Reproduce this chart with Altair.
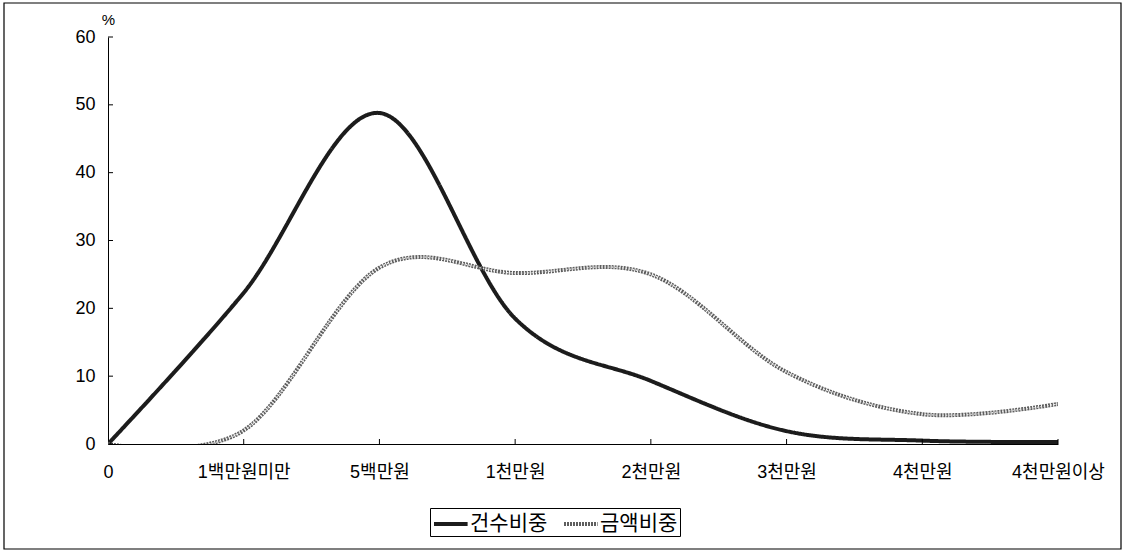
import altair as alt
import pandas as pd

# 금액 구간별 건수비중 / 금액비중 (%)
categories = ["0", "1백만원미만", "5백만원", "1천만원", "2천만원", "3천만원", "4천만원", "4천만원이상"]
count_share = [0.0, 22.3, 48.8, 18.5, 9.3, 1.9, 0.5, 0.3]
amount_share = [0.0, 2.0, 26.0, 25.2, 25.0, 10.6, 4.4, 5.9]
series_names = ["건수비중", "금액비중"]
y_ticks = [0, 10, 20, 30, 40, 50, 60]

W, H = 950, 407
FONT = "'Liberation Sans', 'Noto Sans CJK KR', sans-serif"

rows = []
for name, values in zip(series_names, [count_share, amount_share]):
    for cat, v in zip(categories, values):
        rows.append({"구간": cat, "비중": v, "계열": name})
df = pd.DataFrame(rows)

x_enc = alt.X(
    "구간:N",
    sort=categories,
    scale=alt.Scale(type="point", padding=0),
    axis=alt.Axis(title=None, labelAngle=0, labelPadding=19, tickSize=0,
                  labelFontSize=18, labelOverlap=False, labelBound=False),
)
y_enc = alt.Y(
    "비중:Q",
    scale=alt.Scale(domain=[0, 60], nice=False),
    axis=alt.Axis(values=y_ticks, grid=False, tickSize=0, labelPadding=13,
                  labelFontSize=18, title="%", titleAngle=0, titleX=0, titleY=-18,
                  titleAlign="center", titleBaseline="middle", titleFontSize=15,
                  titleFontWeight="normal"),
)

lines = alt.Chart(df).mark_line(interpolate="cardinal", clip=True, strokeWidth=4).encode(
    x=x_enc,
    y=y_enc,
    color=alt.Color("계열:N", scale=alt.Scale(domain=series_names, range=["#1c1c1c", "#5e5e5e"]),
                    legend=alt.Legend(title=None)),
    strokeDash=alt.StrokeDash("계열:N", scale=alt.Scale(domain=series_names, range=[[1, 0], [2, 1]]),
                              legend=alt.Legend(title=None)),
)

# thin light stitching over the amount line for its chain texture
texture = alt.Chart(df).transform_filter(alt.datum["계열"] == "금액비중").mark_line(
    interpolate="cardinal", clip=True, strokeWidth=1.2, color="#e8e8e8", strokeDash=[1.5, 2]
).encode(x=alt.X("구간:N", sort=categories), y="비중:Q")

# inward tick marks on both axes
y_tick_df = pd.DataFrame({"비중": y_ticks})
y_tick_marks = alt.Chart(y_tick_df).mark_rule(color="black").encode(
    y="비중:Q", x=alt.value(0), x2=alt.value(5)
)
x_tick_df = pd.DataFrame({"구간": categories[1:]})
x_tick_marks = alt.Chart(x_tick_df).mark_rule(color="black").encode(
    x=alt.X("구간:N", sort=categories), y=alt.value(H), y2=alt.value(H - 5)
)

frame = alt.Chart(pd.DataFrame({"k": [0]})).mark_rect(
    fillOpacity=0, stroke="black", strokeWidth=1.2
).encode(x=alt.value(-104), x2=alt.value(1013), y=alt.value(-34), y2=alt.value(512))

chart = alt.layer(lines, texture, y_tick_marks, x_tick_marks, frame).properties(
    width=W,
    height=H,
    padding={"left": 108, "top": 37, "right": 1125 - 108 - W, "bottom": 552 - 37 - H},
    autosize=alt.AutoSizeParams(type="none"),
    background="white",
).configure_view(strokeWidth=0).configure_axis(
    labelFont=FONT, titleFont=FONT, labelColor="black", titleColor="black",
    domainColor="black", domainWidth=1,
).configure_legend(
    orient="none", legendX=322, legendY=471, direction="horizontal",
    strokeColor="black", fillColor="white", padding=2,
    symbolType="M-1,0H1.8", symbolSize=576, symbolStrokeWidth=4,
    labelFont=FONT, labelFontSize=21, labelColor="black", labelOffset=10,
    columnPadding=8,
)

chart.save("out.html", embed_options={"renderer": "svg", "actions": False})
